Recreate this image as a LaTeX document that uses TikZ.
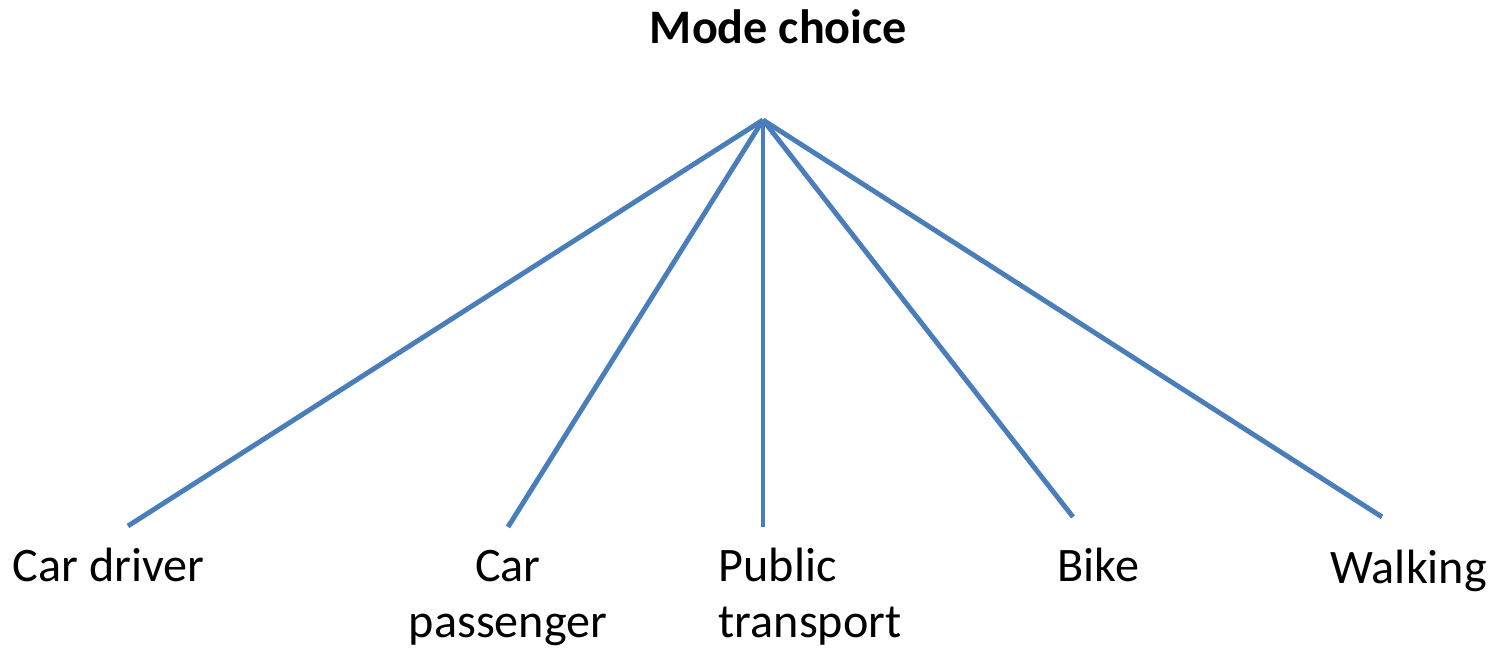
\documentclass[tikz,border=0pt]{standalone}
\usepackage{fontspec}
\setmainfont{Carlito}
\definecolor{linkblue}{HTML}{4A7EBB}

\begin{document}
\begin{tikzpicture}
% Fix the page size
\useasboundingbox (0.0, 0.0) rectangle (14.88, 6.48);
\tikzset{
  link/.style={draw=linkblue, line width=1.4pt},
  label/.style={font=\fontsize{13.7}{16}\selectfont, inner sep=0pt}
}

% Title and top point
\node[anchor=base, font=\fontsize{13.7}{16}\selectfont\bfseries, inner sep=0pt] (modechoice) at (7.785, 6.04) {Mode choice};
\coordinate (top) at (7.63, 5.28);

% Ends of the lines
\coordinate (endcd) at (1.28, 1.22);
\coordinate (endcp) at (5.08, 1.21);
\coordinate (endpt) at (7.63, 1.21);
\coordinate (endbk) at (10.73, 1.31);
\coordinate (endwk) at (13.82, 1.31);

% The modes (two-line labels sit on their last line)
\node[label, anchor=base west] (cardriver) at (0.12, 0.66) {Car driver};
\node[label, anchor=base, align=center] (carpass) at (5.08, 0.10) {Car\\passenger};
\node[label, anchor=base west, align=left] (public) at (7.18, 0.10) {Public\\transport};
\node[label, anchor=base west] (bike) at (10.57, 0.66) {Bike};
\node[label, anchor=base west] (walking) at (13.30, 0.64) {Walking};

% Draw the lines
\draw[link] (top) -- (endcd);
\draw[link] (top) -- (endcp);
\draw[link] (top) -- (endpt);
\draw[link] (top) -- (endbk);
\draw[link] (top) -- (endwk);
\end{tikzpicture}
\end{document}
